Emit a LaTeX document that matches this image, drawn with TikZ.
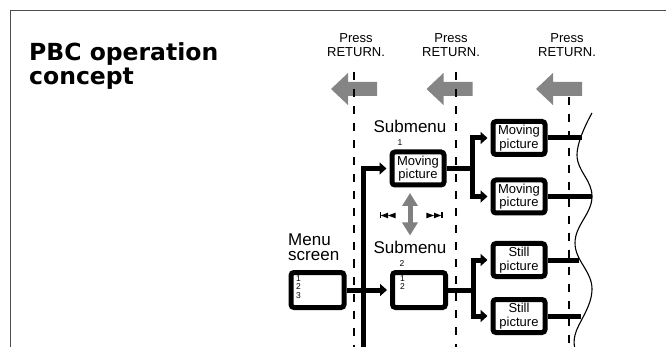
\documentclass[tikz,border=0pt]{standalone}
\usepackage{fontspec}
\setmainfont{Liberation Sans}
\newfontfamily\headfont{DejaVu Sans}
\usetikzlibrary{
    arrows.meta,
    positioning,
    calc
}

\begin{document}
\begin{tikzpicture}[
        x=1pt, y=-1pt,
        every node/.style={inner sep=0pt},
        screen/.style={
            rectangle,
            rounded corners=3pt,
            draw=black,
            line width=5pt,
            fill=white,
            minimum width=52pt,
            minimum height=33pt,
            align=center,
            font=\fontsize{13}{13.5}\selectfont
        },
        menubox/.style={screen,minimum width=53pt,minimum height=35pt},
        heading/.style={font=\headfont\bfseries\fontsize{23.5}{24}\selectfont,align=left},
        hint/.style={font=\fontsize{13}{14}\selectfont,align=center},
        caption/.style={font=\fontsize{17}{15.5}\selectfont,align=left},
        digits/.style={font=\fontsize{8.5}{8.3}\selectfont,align=left},
        flow/.style={-{Triangle[length=7pt,width=12pt]},line width=5pt,shorten >=3pt},
        link/.style={line width=5pt},
        guide/.style={line width=1.8pt,dash pattern=on 8pt off 9pt},
        wave/.style={line width=1.1pt},
        swaparrow/.style={
            {Triangle[length=13pt,width=15pt]}-{Triangle[length=13pt,width=15pt]},
            line width=5pt,
            draw=black!50
        },
        pageframe/.style={draw=black!70,line width=1pt},
        retarrow/.pic={
            \fill[black!48] (-23,0) -- (-6,-16) -- (-6,-7) -- (23,-7)
                -- (23,7) -- (-6,7) -- (-6,16) -- cycle;
        },
        skipback/.pic={
            \fill (-8.5,-3) rectangle (-7.2,3);
            \fill (-7.2,0) -- (0,-2.8) -- (0,2.8) -- cycle;
            \fill (0,0) -- (7.6,-2.8) -- (7.6,2.8) -- cycle;
        }
    ]
        \useasboundingbox (0,0) rectangle (666,347);
        \draw[pageframe] (10,352) |- (670,11);

        % multi-line nodes: base is the last line
        \node[heading, anchor=base west] (title) at (29,85) {PBC operation\\concept};

        \node[hint, anchor=base] (press1) at (356,57) {Press\\RETURN.};
        \node[hint, anchor=base] (press2) at (451,57) {Press\\RETURN.};
        \node[hint, anchor=base] (press3) at (567,57) {Press\\RETURN.};

        \pic (back1) at (354,89) {retarrow};
        \pic (back2) at (449.5,89) {retarrow};
        \pic (back3) at (559,89) {retarrow};

        \draw[guide] (354,72.5) -- (354,352);
        \draw[guide] (456,72) -- (456,352);
        \draw[guide] (569,97) -- (569,352);

        \node[menubox] (menu) at (317.5,290) {};
        \node[menubox] (sub2) at (419,290) {};
        \node[screen] (sub1) at (418,168.5) {Moving\\picture};
        \node[screen] (mvA) at (519,138) {Moving\\picture};
        \node[screen] (mvB) at (519,196.5) {Moving\\picture};
        \node[screen] (stillA) at (519,260) {Still\\picture};
        \node[screen] (stillB) at (519,316) {Still\\picture};

        \node[caption, anchor=base] (sub1lbl) at (410,133) {Submenu};
        \node[digits] (sub1no) at (400,143) {1};
        \node[caption, anchor=base] (sub2lbl) at (410,254) {Submenu};
        \node[digits] (sub2no) at (402,264) {2};
        \node[caption, anchor=base west] (menulbl) at (288,261) {Menu\\screen};
        \node[digits, anchor=north west] (menuitems) at (296,275.5) {1\\2\\3};
        \node[digits, anchor=north west] (sub2items) at (400,275.5) {1\\2};

        \coordinate (trunk) at (363.5,352);
        \coordinate (fork1) at (472.5,168.5);
        \coordinate (fork2) at (473.5,290);
        \coordinate (endA) at (582,138);
        \coordinate (endB) at (592,196.5);
        \coordinate (endC) at (579,260);
        \coordinate (endD) at (581,316);

        \draw[flow] (trunk) |- (sub1);
        \draw[flow] (menu) -- (sub2);
        \draw[link] (sub1) -- (fork1);
        \draw[flow] (fork1) |- (mvA);
        \draw[flow] (fork1) |- (mvB);
        \draw[link] (sub2) -- (fork2);
        \draw[flow] (fork2) |- (stillA);
        \draw[flow] (fork2) |- (stillB);

        \draw[link] (mvA) -- (endA);
        \draw[link] (mvB) -- (endB);
        \draw[link] (stillA) -- (endC);
        \draw[link] (stillB) -- (endD);
        \draw[wave] plot[smooth, tension=0.7] coordinates
            {(592,113) (577,155) (592,197) (575,243) (592,289) (575,335) (577,352)};

        \draw[swaparrow, shorten <=5.5pt, shorten >=6pt] (sub1.south -| sub2lbl) -- (sub2lbl.north);
        \pic (skipL) at (388,215.5) {skipback};
        \pic[xscale=-1] (skipR) at (434,215.5) {skipback};
\end{tikzpicture}
\end{document}
